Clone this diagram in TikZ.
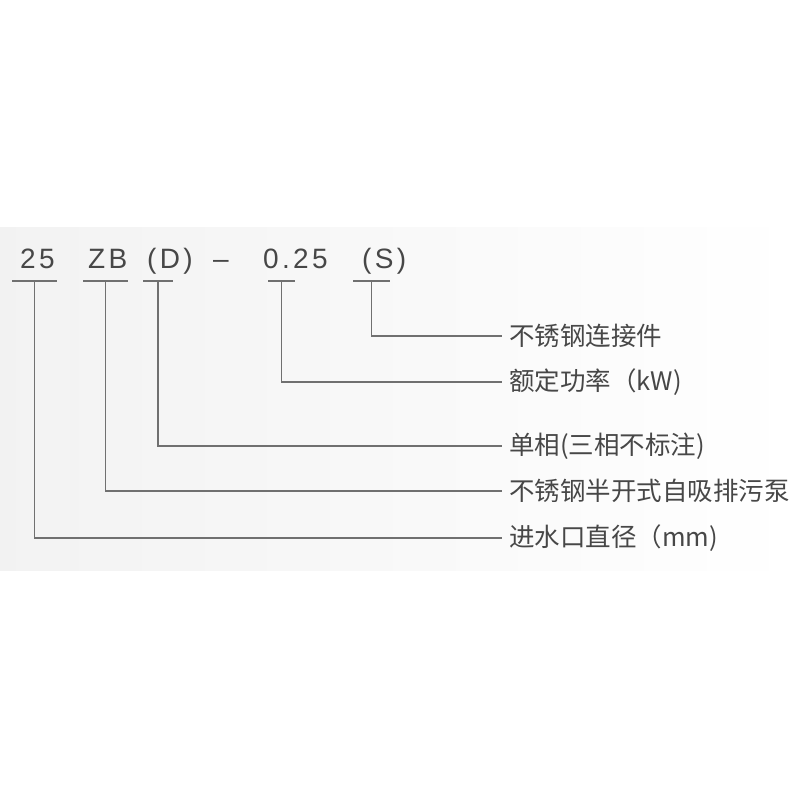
\documentclass[tikz,border=0pt]{standalone}
\usepackage{fontspec}
\setmainfont{Liberation Sans}
\newfontfamily\cjk{Noto Sans CJK SC}
\newfontfamily\codefont[LetterSpace=12]{Liberation Sans}
\definecolor{txt}{HTML}{474747}
\definecolor{rule}{HTML}{707070}

\begin{document}
\begin{tikzpicture}[x=1pt,y=-1pt,
    code/.style={anchor=base west,inner sep=0,text=txt,font=\codefont\fontsize{28}{30}\selectfont},
    lab/.style={anchor=west,inner xsep=7pt,inner ysep=0,text=txt,font=\cjk\fontsize{25.5}{30}\selectfont},
    lead/.style={draw=rule,line width=1.5pt}]
    \useasboundingbox (0,0) rectangle (800,800);
    \shade [left color=black!5,right color=white] (0,227) rectangle (800,570);

    % model code
    \node[code] (n25) at (20,268) {25};
    \node[code] (nZB) at (88,268) {ZB};
    \node[code] (nD) at (147,268) {(D)};
    \node[code] (ndash) at (213,268) {–};
    \node[code] (nP) at (263,268) {0.25};
    \node[code] (nS) at (362,268) {(S)};

    % underlines, with the middle point where the leader starts
    \foreach \n/\a/\b in {25/12/57, ZB/83/128, D/143/173, P/268/295, S/353/390} {
        \coordinate (a\n) at (\a,281);
        \coordinate (b\n) at (\b,281);
        \coordinate (t\n) at ({(\a+\b)/2},281);
        \draw [lead] (a\n) -- (b\n);
    }

    % meanings
    \node[lab] (lS) at (502,336) {不锈钢连接件};
    \node[lab] (lP) at (502,382) {额定功率（kW)};
    \node[lab] (lD) at (502,446) {单相(三相不标注)};
    \node[lab] (lZB) at (502,491) {不锈钢半开式自吸排污泵};
    \node[lab] (l25) at (502,538) {进水口直径（mm)};

    \draw [lead] (tS) |- (lS.west);
    \draw [lead] (tP) |- (lP.west);
    \draw [lead] (tD) |- (lD.west);
    \draw [lead] (tZB) |- (lZB.west);
    \draw [lead] (t25) |- (l25.west);
\end{tikzpicture}
\end{document}
